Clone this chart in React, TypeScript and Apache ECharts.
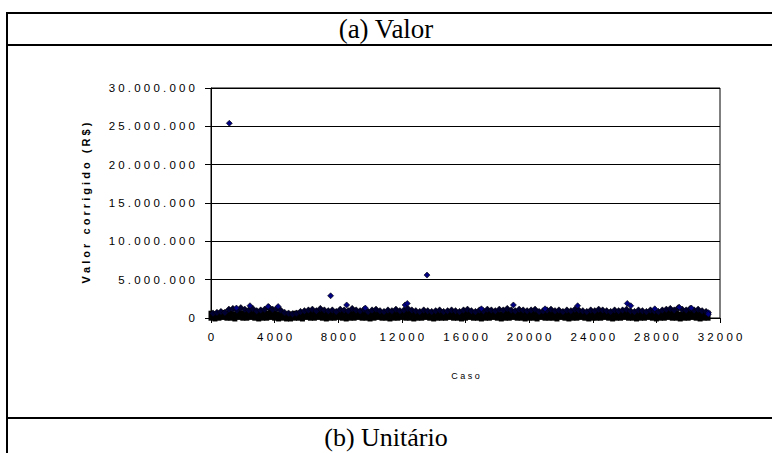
import React, { useEffect, useRef } from "react";
import * as echarts from "echarts";

// Títulos do quadro
const titleTop = "(a) Valor";
const titleBottom = "(b) Unitário";
const xAxisTitle = "Caso";
const yAxisTitle = "Valor corrigido (R$)";

// Eixos
const xTicks = [0, 4000, 8000, 12000, 16000, 20000, 24000, 28000, 32000];
const yTicks = [0, 5000000, 10000000, 15000000, 20000000, 25000000, 30000000];

// Faixa densa de casos (amostra a cada 250 casos), valores em milhões de R$
const faixaPasso = 250;
const faixaBaixa = [
  0.3, 0.2, 0.3, 0.4, 0.3, 0.3, 0.2, 0.4, 0.3, 0.3,
  0.4, 0.3, 0.2, 0.3, 0.3, 0.4, 0.3, 0.2, 0.3, 0.2,
  0.2, 0.3, 0.3, 0.2, 0.4, 0.3, 0.3, 0.4, 0.3, 0.2,
  0.3, 0.3, 0.4, 0.3, 0.2, 0.3, 0.3, 0.4, 0.3, 0.3,
  0.2, 0.3, 0.4, 0.3, 0.3, 0.2, 0.3, 0.3, 0.4, 0.3,
  0.3, 0.2, 0.3, 0.3, 0.4, 0.3, 0.2, 0.3, 0.3, 0.3,
  0.4, 0.3, 0.3, 0.2, 0.3, 0.4, 0.3, 0.3, 0.2, 0.3,
  0.3, 0.4, 0.3, 0.2, 0.3, 0.3, 0.4, 0.3, 0.3, 0.2,
  0.3, 0.3, 0.2, 0.4, 0.3, 0.3, 0.3, 0.2, 0.4, 0.3,
  0.2, 0.3, 0.3, 0.4, 0.3, 0.2, 0.3, 0.3, 0.3, 0.4,
  0.3, 0.2, 0.3, 0.3, 0.4, 0.3, 0.3, 0.2, 0.3, 0.3,
  0.4, 0.3, 0.2, 0.3, 0.3, 0.4, 0.3, 0.3, 0.2, 0.3,
  0.3, 0.4, 0.3, 0.2, 0.3, 0.3,
];
// topo da faixa (casos deslocados 125)
const faixaAltaInicio = 125;
const faixaAlta = [
  0.6, 0.7, 0.8, 0.7, 1.1, 1.2, 1.0, 1.3, 1.1, 1.0,
  1.2, 0.9, 1.0, 1.1, 1.4, 1.1, 1.2, 1.0, 0.7, 0.6,
  0.5, 0.6, 0.8, 0.9, 1.0, 1.1, 0.9, 1.2, 1.0, 0.9,
  1.0, 0.8, 1.1, 1.0, 0.9, 1.2, 1.0, 0.9, 1.1, 0.8,
  1.0, 1.1, 0.9, 0.8, 1.0, 0.9, 1.1, 0.9, 1.0, 1.2,
  1.0, 0.9, 0.8, 1.0, 0.9, 0.8, 0.9, 1.0, 0.8, 0.9,
  1.0, 0.9, 0.8, 1.0, 1.1, 0.9, 0.8, 1.0, 0.9, 1.1,
  1.0, 0.9, 1.1, 1.0, 1.2, 1.0, 0.9, 1.1, 1.0, 0.9,
  1.0, 1.1, 0.8, 0.9, 1.0, 1.1, 0.9, 1.0, 0.8, 1.0,
  0.9, 1.1, 1.0, 0.9, 0.8, 1.0, 0.9, 1.1, 1.0, 0.9,
  0.8, 1.0, 0.9, 1.0, 1.1, 0.9, 0.8, 1.0, 0.9, 0.8,
  1.0, 0.9, 0.8, 1.0, 1.1, 1.2, 1.0, 1.3, 1.1, 1.0,
  1.2, 1.0, 1.1, 0.9, 0.8,
];

// Casos isolados (caso, valor em R$)
const destaqueCasos = [1150, 13580, 7520, 8530, 12200, 12340, 19010, 23050, 26170, 26390, 29440, 2450, 3590, 4220, 31270, 31270, 1600, 9700, 17000, 21000, 27900, 30200];
const destaqueValores = [25400000, 5600000, 2900000, 1700000, 1700000, 1900000, 1700000, 1600000, 1900000, 1600000, 1400000, 1600000, 1500000, 1500000, 700000, 500000, 1300000, 1300000, 1200000, 1200000, 1200000, 1300000];

const spaced = (s: string) => s.split("").join(" ");
const fmtThousands = (v: number) =>
  String(Math.round(v)).replace(/\B(?=(\d{3})+(?!\d))/g, ".");

export default function App() {
  const ref = useRef<HTMLDivElement>(null);
  useEffect(() => {
    if (!ref.current) return;
    const chart = echarts.init(ref.current, undefined, { renderer: "svg" });

    const baixa = faixaBaixa.map((v, i) => [i * faixaPasso, v * 1e6]);
    const alta = faixaAlta.map((v, i) => [faixaAltaInicio + i * faixaPasso, v * 1e6]);
    const destaque = destaqueCasos.map((c, i) => [c, destaqueValores[i]]);

    const labelFont = "'Liberation Sans', Arial, sans-serif";
    const serif = "'Liberation Serif', 'Times New Roman', serif";

    chart.setOption({
      animation: false,
      backgroundColor: "#ffffff",
      grid: {
        left: 211,
        top: 88,
        width: 509,
        height: 230,
        show: true,
        borderColor: "#000",
        borderWidth: 1,
        containLabel: false,
      },
      xAxis: {
        type: "value",
        min: xTicks[0],
        max: xTicks[xTicks.length - 1],
        interval: 4000,
        name: spaced(xAxisTitle),
        nameLocation: "middle",
        nameGap: 53,
        nameTextStyle: { fontFamily: labelFont, fontSize: 9, color: "#000" },
        axisLine: { show: true, lineStyle: { color: "#000", width: 1 } },
        axisTick: { show: true, length: 5, inside: false, lineStyle: { color: "#000" } },
        axisLabel: {
          margin: 13,
          fontFamily: labelFont,
          fontSize: 11.5,
          color: "#000",
          formatter: (v: number) => spaced(String(v)),
        },
        splitLine: { show: false },
      },
      yAxis: {
        type: "value",
        min: yTicks[0],
        max: yTicks[yTicks.length - 1],
        interval: 5000000,
        name: spaced(yAxisTitle),
        nameLocation: "middle",
        nameGap: 120,
        nameRotate: 90,
        nameTextStyle: { fontFamily: labelFont, fontSize: 11, fontWeight: "bold", color: "#000" },
        axisLine: { show: true, lineStyle: { color: "#000", width: 1 } },
        axisTick: { show: true, length: 6, inside: false, lineStyle: { color: "#000" } },
        axisLabel: {
          margin: 16,
          fontFamily: labelFont,
          fontSize: 11.5,
          color: "#000",
          formatter: (v: number) => spaced(fmtThousands(v)),
        },
        splitLine: { show: true, lineStyle: { color: "#000", width: 1 } },
      },
      series: [
        {
          type: "scatter",
          data: baixa,
          symbol: "rect",
          symbolSize: [5, 10],
          itemStyle: { color: "#000000", opacity: 1 },
          silent: true,
        },
        {
          type: "scatter",
          data: alta,
          symbol: "diamond",
          symbolSize: 7,
          itemStyle: { color: "#000030", borderColor: "#000", borderWidth: 0.5, opacity: 1 },
          silent: true,
        },
        {
          type: "scatter",
          data: destaque,
          symbol: "diamond",
          symbolSize: 6,
          itemStyle: { color: "#000080", borderColor: "#000", borderWidth: 0.6, opacity: 1 },
          silent: true,
        },
      ],
      graphic: [
        { type: "line", shape: { x1: 7, y1: 13, x2: 772, y2: 13 }, style: { stroke: "#000", lineWidth: 2 } },
        { type: "line", shape: { x1: 7, y1: 12, x2: 7, y2: 453 }, style: { stroke: "#000", lineWidth: 2 } },
        { type: "line", shape: { x1: 7, y1: 45, x2: 772, y2: 45 }, style: { stroke: "#000", lineWidth: 2 } },
        { type: "line", shape: { x1: 7, y1: 418, x2: 772, y2: 418 }, style: { stroke: "#000", lineWidth: 2 } },
        {
          type: "text",
          x: 386,
          y: 29,
          style: {
            text: titleTop,
            fontFamily: serif,
            fontSize: 27,
            fill: "#000",
            align: "center",
            verticalAlign: "middle",
          },
        },
        {
          type: "text",
          x: 386,
          y: 437,
          style: {
            text: titleBottom,
            fontFamily: serif,
            fontSize: 26,
            fill: "#000",
            align: "center",
            verticalAlign: "middle",
          },
        },
      ],
    });
    return () => chart.dispose();
  }, []);

  return (
    <div
      ref={ref}
      style={{ position: "absolute", left: 0, top: 0, width: 772, height: 453, background: "#fff" }}
    />
  );
}
